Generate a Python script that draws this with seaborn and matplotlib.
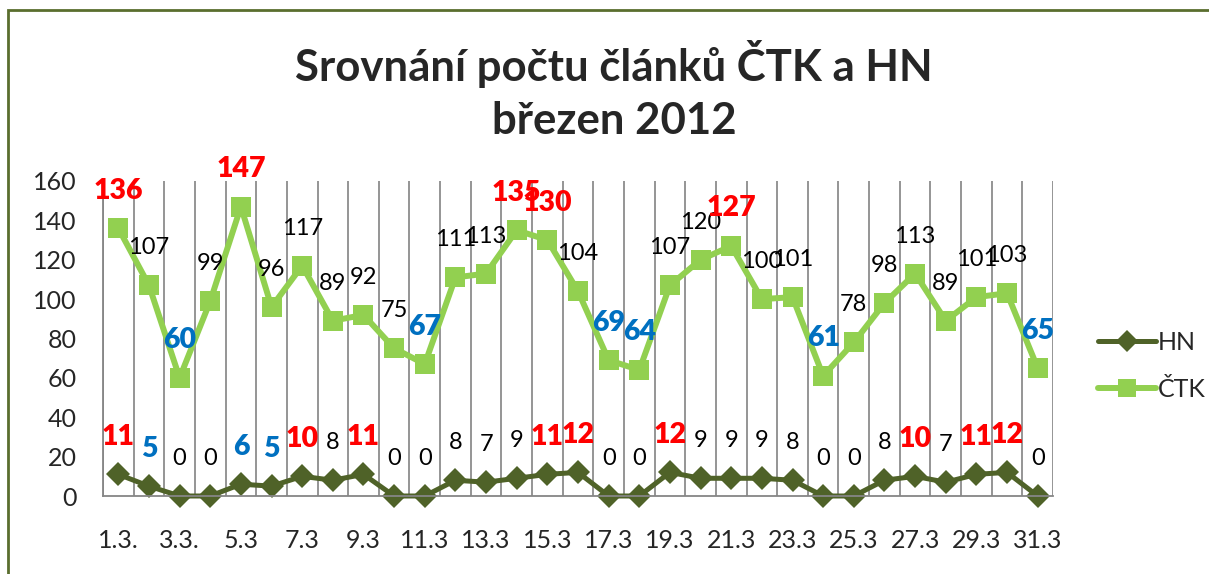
import matplotlib
matplotlib.use("Agg")
import matplotlib.pyplot as plt
import numpy as np
import pandas as pd
import seaborn as sns
from matplotlib.patches import Rectangle

days = list(range(1, 32))
tick_labels = ["1.3.", "3.3.", "5.3", "7.3", "9.3", "11.3", "13.3", "15.3",
               "17.3", "19.3", "21.3", "23.3", "25.3", "27.3", "29.3", "31.3"]
hn = [11, 5, 0, 0, 6, 5, 10, 8, 11, 0, 0, 8, 7, 9, 11, 12,
      0, 0, 12, 9, 9, 9, 8, 0, 0, 8, 10, 7, 11, 12, 0]
ctk = [136, 107, 60, 99, 147, 96, 117, 89, 92, 75, 67, 111, 113, 135, 130, 104,
       69, 64, 107, 120, 127, 100, 101, 61, 78, 98, 113, 89, 101, 103, 65]
# label highlight: 'r' = red bold, 'b' = blue bold, '' = plain
hn_marks = ['r', 'b', '', '', 'b', 'b', 'r', '', 'r', '', '', '', '', '', 'r', 'r',
            '', '', 'r', '', '', '', '', '', '', '', 'r', '', 'r', 'r', '']
ctk_marks = ['r', '', 'b', '', 'r', '', '', '', '', '', 'b', '', '', 'r', 'r', '',
             'b', 'b', '', '', 'r', '', '', 'b', '', '', '', '', '', '', 'b']

sns.set_style("white")
plt.rcParams['font.family'] = ['Lato', 'DejaVu Sans']

df = pd.DataFrame({'idx': np.arange(len(days)), 'HN': hn, 'ČTK': ctk})

HN_COL = '#4F6228'
CTK_COL = '#92D050'
RED = '#FF0000'
BLUE = '#0070C0'

fig = plt.figure(figsize=(12.09, 5.74), dpi=100)
ax = fig.add_axes([103 / 1209, 1 - 496 / 574, (1053 - 103) / 1209, (496 - 181) / 574])

sns.lineplot(data=df, x='idx', y='HN', ax=ax, color=HN_COL, linewidth=3.6,
             marker='D', markersize=12, markeredgewidth=0, label='HN', clip_on=False)
sns.lineplot(data=df, x='idx', y='ČTK', ax=ax, color=CTK_COL, linewidth=4.3,
             marker='s', markersize=14.5, markeredgewidth=0, label='ČTK', clip_on=False)

def put_labels(vals, marks):
    for i, (v, m) in enumerate(zip(vals, marks)):
        col = {'r': RED, 'b': BLUE}.get(m, 'black')
        ax.annotate(str(v), (i, v), xytext=(0, 27), textcoords='offset points',
                    ha='center', va='center', fontsize=20.5 if m else 17, color=col,
                    fontweight='heavy' if m else 'normal', zorder=5)

put_labels(hn, hn_marks)
put_labels(ctk, ctk_marks)

ax.set_xlim(-0.5, len(days) - 0.5)
ax.set_ylim(0, 160)
ax.set_yticks(range(0, 161, 20))
ax.set_xticks(range(0, len(days), 2))
ax.set_xticklabels(tick_labels)
ax.set_xticks(np.arange(-0.5, len(days), 1), minor=True)
ax.tick_params(axis='x', which='major', length=0, pad=24, labelsize=18)
ax.tick_params(axis='x', which='minor', length=8, width=1.2, color='#868686')
ax.tick_params(axis='y', length=7, width=1.2, color='#868686', labelsize=18, pad=12)
ax.grid(axis='x', which='minor', color='#8C8C8C', linewidth=1.3)
ax.set_xlabel('')
ax.set_ylabel('')
for s in ['top', 'right']:
    ax.spines[s].set_visible(False)
for s in ['left', 'bottom']:
    ax.spines[s].set_color('#868686')
    ax.spines[s].set_linewidth(1.3)

ax.legend_.remove()
h, l = ax.get_legend_handles_labels()
fig.legend(h, l, loc='center left', bbox_to_anchor=(1088 / 1209, 1 - 366 / 574),
           frameon=False, fontsize=18, handlelength=2.3, handletextpad=0.1,
           labelspacing=0.95, markerscale=0.9, borderaxespad=0)

fig.text(614 / 1209, 1 - 64 / 574, 'Srovnání počtu článků ČTK a HN', ha='center',
         va='center', fontsize=31.5, fontweight='bold')
fig.text(614 / 1209, 1 - 121 / 574, 'březen 2012', ha='center', va='center',
         fontsize=31.5, fontweight='bold')

fig.patches.append(Rectangle((8 / 1209, -0.05), 1.1, 1 - 10 / 574 + 0.05,
                             transform=fig.transFigure, fill=False,
                             edgecolor='#5A6E2E', linewidth=2))

fig.savefig('out.png', dpi=100)
